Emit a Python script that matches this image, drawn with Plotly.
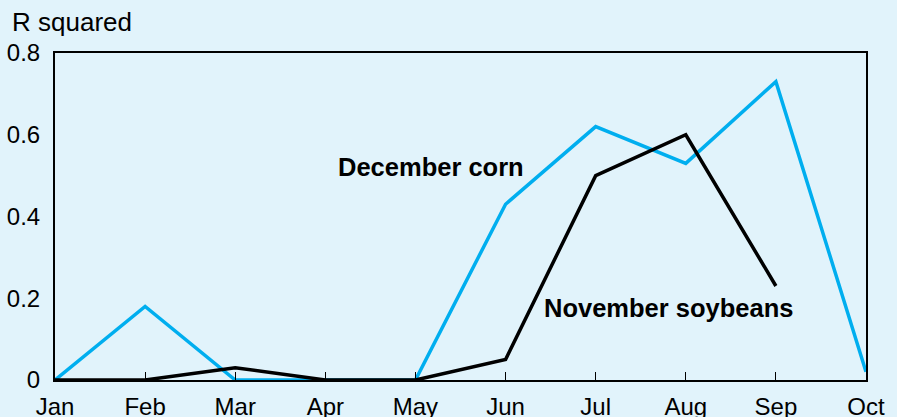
import plotly.graph_objects as go

months = ["Jan", "Feb", "Mar", "Apr", "May", "Jun", "Jul", "Aug", "Sep", "Oct"]
corn = [0, 0.18, 0, 0, 0, 0.43, 0.62, 0.53, 0.73, 0.02]
soy_months = ["Jan", "Feb", "Mar", "Apr", "May", "Jun", "Jul", "Aug", "Sep"]
soy = [0, 0, 0.03, 0, 0, 0.05, 0.50, 0.60, 0.23]
y_ticks = [0, 0.2, 0.4, 0.6, 0.8]
y_labels = ["0", "0.2", "0.4", "0.6", "0.8"]

bg = "#E1F3FB"
font = "Liberation Sans, Arial, sans-serif"

fig = go.Figure()
fig.add_trace(go.Scatter(x=months, y=corn, mode="lines",
                         line=dict(color="#00AEEF", width=3.5), name="December corn"))
fig.add_trace(go.Scatter(x=soy_months, y=soy, mode="lines",
                         line=dict(color="#000000", width=3.5), name="November soybeans"))

fig.update_layout(
    width=897, height=417,
    margin=dict(l=55, r=31, t=53, b=37, autoexpand=False),
    paper_bgcolor=bg, plot_bgcolor=bg,
    showlegend=False,
    font=dict(family=font, size=24, color="#000"),
    xaxis=dict(categoryorder="array", categoryarray=months, range=[0, 9],
               showgrid=False, zeroline=False, showline=True, linecolor="#000",
               linewidth=2, mirror=True, ticks="inside", ticklen=8, tickcolor="#000",
               tickwidth=1, ticklabelstandoff=4, tickfont=dict(size=24),
               automargin=False),
    yaxis=dict(range=[0, 0.8], tickvals=y_ticks, ticktext=y_labels,
               showgrid=False, zeroline=False, showline=True, linecolor="#000",
               linewidth=2, mirror=True, ticks="", ticklabelstandoff=8,
               tickfont=dict(size=24), automargin=False),
    annotations=[
        dict(text="R squared", xref="paper", yref="paper", x=-0.056, y=1.0,
             yshift=14, xanchor="left", yanchor="bottom", showarrow=False,
             font=dict(size=26)),
        dict(text="<b>December corn</b>", x=4.17, y=0.521, xref="x", yref="y",
             showarrow=False, font=dict(size=25.5)),
        dict(text="<b>November soybeans</b>", x=6.81, y=0.176, xref="x", yref="y",
             showarrow=False, font=dict(size=25.5)),
    ],
)

fig.write_html("out.html", config={"displayModeBar": False},
               post_script="document.body.style.margin='0';document.body.style.background='%s';" % bg)
